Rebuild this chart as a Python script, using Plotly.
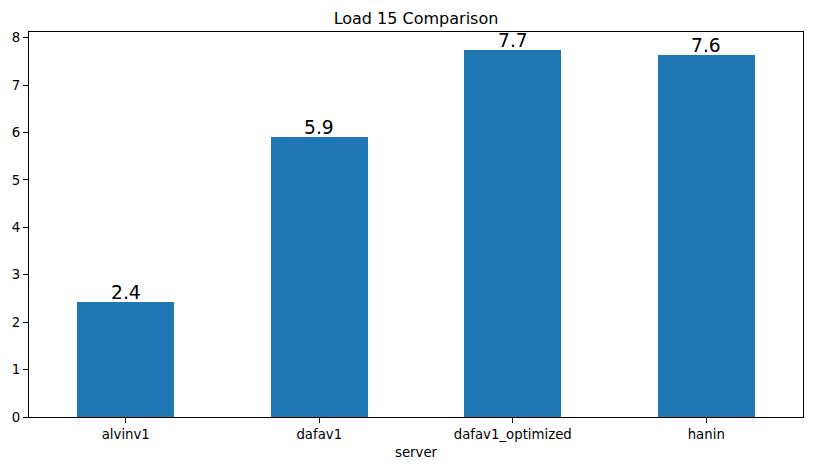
import plotly.graph_objects as go

servers = ["alvinv1", "dafav1", "dafav1_optimized", "hanin"]
load15 = [2.42, 5.90, 7.73, 7.64]
labels = [f"{v:.1f}" for v in load15]

fig = go.Figure()
fig.add_trace(go.Bar(x=list(range(len(servers))), y=load15, width=0.5,
                     marker=dict(color="#1f77b4", line=dict(width=0))))

for i, (v, t) in enumerate(zip(load15, labels)):
    fig.add_annotation(x=i, y=v, text=t, showarrow=False, yanchor="bottom",
                       yshift=-3, font=dict(size=18.7, color="black",
                                            family="DejaVu Sans"))

fig.update_layout(
    width=813, height=470,
    margin=dict(l=29, r=10, t=32, b=53, autoexpand=False),
    paper_bgcolor="white", plot_bgcolor="white",
    font=dict(family="DejaVu Sans", size=13.3, color="black"),
    title=dict(text="Load 15 Comparison", x=0.5, xanchor="center", xref="paper",
               y=1 - 18 / 470, yanchor="middle", font=dict(size=16)),
    showlegend=False, bargap=0,
)
fig.update_xaxes(range=[-0.5, 3.5], tickmode="array", automargin=False,
                 tickvals=list(range(len(servers))), ticktext=servers,
                 showline=True, linecolor="black", linewidth=1, mirror=True,
                 ticks="outside", ticklen=5, tickcolor="black", showgrid=False,
                 zeroline=False,
                 title=dict(text="server", standoff=6, font=dict(size=13.3)))
fig.update_yaxes(range=[0, 8.12], tickvals=list(range(9)), automargin=False,
                 showline=True, linecolor="black", linewidth=1, mirror=True,
                 ticks="outside", ticklen=5, tickcolor="black", showgrid=False,
                 zeroline=False)

fig.write_html("out.html", config={"displayModeBar": False},
               post_script="document.body.style.margin='0';document.body.style.overflow='hidden';")
